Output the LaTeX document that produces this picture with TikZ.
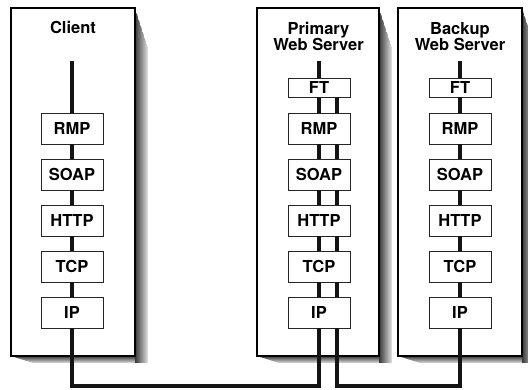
\documentclass[tikz,border=0pt]{standalone}
\usepackage{fontspec}
\setmainfont{TeX Gyre Heros}
\newcommand\mysh[4]{% L T R B
  \begin{scope}
    \clip (#3,-#2) -- (#3+13,-#2-40) -- (#3+13,-#4-7) -- (#1+22,-#4-7) -- (#1,-#4) -- cycle;
    \foreach \i in {0,...,12}{
      \pgfmathsetmacro\shg{78-5.2*\i}
      \fill[black!\shg] (#3+\i,-#2) rectangle (#3+\i+1.1,-#4-7);
    }
    \foreach \i in {0,...,6}{
      \pgfmathsetmacro\shg{78-9.5*\i}
      \fill[black!\shg] (#1,-#4-\i) rectangle (#3,-#4-\i-1.1);
    }
  \end{scope}}
\tikzset{
  outerbox/.style={draw=black, line width=1.5pt, fill=white, minimum height=348pt, inner sep=0pt},
  layerbox/.style={draw=black!85, line width=0.9pt, fill=white, minimum width=62pt, minimum height=31pt,
    inner sep=0pt, font=\fontsize{16.5}{16.5}\selectfont\bfseries},
  ftbox/.style={layerbox, minimum height=19pt},
  ttl/.style={inner sep=0pt, align=center, font=\fontsize{16.5}{16.5}\selectfont\bfseries},
  wire/.style={line width=3.3pt, draw=black!92, line join=miter},
}
\begin{document}
\begin{tikzpicture}[x=1pt,y=1pt]
\useasboundingbox (0,0) rectangle (528,-389);
\clip (0,0) rectangle (528,-389);
% shadows
\mysh{11}{8}{135}{356}
\mysh{257}{8}{379}{356}
\mysh{398}{8}{522}{356}
% outer boxes
\node[outerbox, minimum width=124pt] (client) at (73,-182) {};
\node[outerbox, minimum width=122pt] (primary) at (318,-182) {};
\node[outerbox, minimum width=124pt] (backup) at (460,-182) {};
% titles
\node[ttl, anchor=base] (tclient) at (73,-33) {Client};
\node[ttl, anchor=north] (tprimary) at (318.5,-22) {Primary\\Web Server};
\node[ttl, anchor=north] (tbackup) at (460,-22) {Backup\\Web Server};
% client stack
\node[layerbox] (cRMP)  at (72,-128.5) {RMP};
\node[layerbox] (cSOAP) at (72,-174.5) {SOAP};
\node[layerbox] (cHTTP) at (72,-220.5) {HTTP};
\node[layerbox] (cTCP)  at (72,-266.5) {TCP};
\node[layerbox] (cIP)   at (72,-312.5) {IP};
% primary stack
\node[ftbox]    (pFT)   at (319,-87.5) {FT};
\node[layerbox] (pRMP)  at (319,-128.5) {RMP};
\node[layerbox] (pSOAP) at (319,-174.5) {SOAP};
\node[layerbox] (pHTTP) at (319,-220.5) {HTTP};
\node[layerbox] (pTCP)  at (319,-266.5) {TCP};
\node[layerbox] (pIP)   at (319,-312.5) {IP};
% backup stack
\node[ftbox]    (bFT)   at (460,-87.5) {FT};
\node[layerbox] (bRMP)  at (460,-128.5) {RMP};
\node[layerbox] (bSOAP) at (460,-174.5) {SOAP};
\node[layerbox] (bHTTP) at (460,-220.5) {HTTP};
\node[layerbox] (bTCP)  at (460,-266.5) {TCP};
\node[layerbox] (bIP)   at (460,-312.5) {IP};
% coordinates
\coordinate (ctop) at (72,-61);
\coordinate (ptop) at (319,-61);
\coordinate (btop) at (460,-61);
\coordinate (pbus) at (319,-386);
\coordinate (bbus) at (460,-386);
% client wires
\draw[wire] (ctop) -- (cRMP);
\draw[wire] (cRMP) -- (cSOAP);
\draw[wire] (cSOAP) -- (cHTTP);
\draw[wire] (cHTTP) -- (cTCP);
\draw[wire] (cTCP) -- (cIP);
% primary wires (main)
\draw[wire] (ptop) -- (pFT);
\draw[wire] (pFT) -- (pRMP);
\draw[wire] (pRMP) -- (pSOAP);
\draw[wire] (pSOAP) -- (pHTTP);
\draw[wire] (pHTTP) -- (pTCP);
\draw[wire] (pTCP) -- (pIP);
% primary wires (second)
\draw[wire] ([xshift=18pt]pFT.south) -- ([xshift=18pt]pRMP.north);
\draw[wire] ([xshift=18pt]pRMP.south) -- ([xshift=18pt]pSOAP.north);
\draw[wire] ([xshift=18pt]pSOAP.south) -- ([xshift=18pt]pHTTP.north);
\draw[wire] ([xshift=18pt]pHTTP.south) -- ([xshift=18pt]pTCP.north);
\draw[wire] ([xshift=18pt]pTCP.south) -- ([xshift=18pt]pIP.north);
% backup wires
\draw[wire] (btop) -- (bFT);
\draw[wire] (bFT) -- (bRMP);
\draw[wire] (bRMP) -- (bSOAP);
\draw[wire] (bSOAP) -- (bHTTP);
\draw[wire] (bHTTP) -- (bTCP);
\draw[wire] (bTCP) -- (bIP);
% buses
\draw[wire] (cIP) |- (pbus) -- (pIP);
\draw[wire] ([xshift=18pt]pIP.south) |- (bbus) -- (bIP);
\end{tikzpicture}
\end{document}
